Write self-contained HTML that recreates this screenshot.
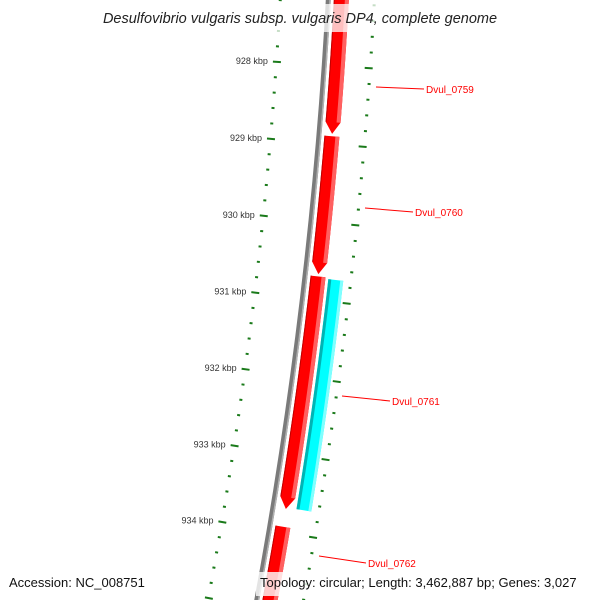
<!DOCTYPE html>
<html><head><meta charset="utf-8"><style>
html,body{margin:0;padding:0;background:#fff;width:600px;height:600px;overflow:hidden;}
svg{display:block;font-family:"Liberation Sans",sans-serif;overflow:hidden;}
</style></head><body>
<svg id="map" width="600" height="600" viewBox="0 0 600 600" xmlns="http://www.w3.org/2000/svg">
<rect width="600" height="600" fill="#fff"/>
<g id="g-rulers"></g>
<g id="g-backbone"></g>
<g id="g-features"></g>
<g id="g-labels"></g>
<rect x="84" y="4" width="432" height="28" fill="#fff" opacity="0.75"/>
<text x="300" y="23" text-anchor="middle" font-size="14.5" font-style="italic" fill="#222">Desulfovibrio vulgaris subsp. vulgaris DP4, complete genome</text>
<rect x="4" y="572" width="150" height="24" fill="#fff" opacity="0.8"/>
<text x="9" y="587" font-size="13" fill="#111">Accession: NC_008751</text>
<rect x="256" y="572" width="340" height="24" fill="#fff" opacity="0.8"/>
<text x="260" y="587" font-size="13" fill="#111">Topology: circular; Length: 3,462,887 bp; Genes: 3,027</text>
</svg>
<script>
// data
const majorTicks = [928, 929, 930, 931, 932, 933, 934];
const tickLabels = ["928 kbp","929 kbp","930 kbp","931 kbp","932 kbp","933 kbp","934 kbp"];
const geneNames = ["Dvul_0759","Dvul_0760","Dvul_0761","Dvul_0762"];
const geneStarts = [926.9, 928.9, 930.7, 933.93];
const geneEnds = [928.87, 930.67, 933.7, 935.5];
const cdsStarts = [930.72];
const cdsEnds = [933.68];
const labelPos = [[426,89,376,87],[415,212,365,208],[392,401,342,396],[368,563,319,556]];

const NS="http://www.w3.org/2000/svg";
const CX=-4415, CY=-261, A0=0.0687, K=0.01643;
function ang(k){return A0+(k-928)*K;}
function pt(r,k){const a=ang(k);return [CX+r*Math.cos(a), CY+r*Math.sin(a)];}
function mk(tag,attrs,parent){const e=document.createElementNS(NS,tag);for(const k in attrs)e.setAttribute(k,attrs[k]);parent.appendChild(e);return e;}
function arcPts(r,k1,k2){const p=[];const n=40;for(let i=0;i<=n;i++){p.push(pt(r,k1+(k2-k1)*i/n));}return p;}
function band(r1,r2,k1,k2,fill,parent,name){
  const pts=arcPts(r2,k1,k2).concat(arcPts(r1,k2,k1));
  const e=mk('polygon',{points:pts.map(p=>p.join(',')).join(' '),fill:fill},parent);
  
  
  return e;
}
function arrow(r1,r2,k1,k2,fill,parent,name){
  const head=0.15;const kh=Math.max(k1,k2-head);
  const pts=arcPts(r2,k1,kh).concat([pt((r1+r2)/2,k2)]).concat(arcPts(r1,kh,k1));
  const e=mk('polygon',{points:pts.map(p=>p.join(',')).join(' '),fill:fill},parent);
  
  
  return e;
}
const gr=document.getElementById('g-rulers');
const gb=document.getElementById('g-backbone');
const gf=document.getElementById('g-features');
const gl=document.getElementById('g-labels');

// rulers
for(let i=-10;i<=50;i++){
  const k=926+i*0.2;
  const isMajor=Math.abs(k-Math.round(k))<1e-6;
  [[4699,4707,4701,4704],[4791,4799,4795,4798]].forEach((rr,j)=>{
    const a=isMajor?pt(rr[0],k):pt(rr[2],k), b=isMajor?pt(rr[1],k):pt(rr[3],k);
    const l=mk('line',{x1:a[0],y1:a[1],x2:b[0],y2:b[1],stroke:'#1a7a1a','stroke-width':2},gr);
    
    
  });
}
majorTicks.forEach((k,i)=>{
  const p=pt(4694,k);
  const t=mk('text',{x:p[0],y:p[1]+3,'text-anchor':'end','font-size':'9',fill:'#333'},gr);
  t.textContent=tickLabels[i];
  
  
});

// backbone
band(4748,4753,920,940,'#7a7a7a',gb,'backbone');
band(4751.5,4753,920,940,'#b0b0b0',gb,'backbone-highlight');

// genes (forward strand)
geneStarts.forEach((s,i)=>{
  arrow(4756,4771,s,geneEnds[i],'#ff0000',gf,'gene-'+geneNames[i]);
  band(4767,4771,s,geneEnds[i]-0.15,'#ff6060',gf,'gene-highlight');
  band(4756,4757,s,geneEnds[i]-0.15,'#c00000',gf,'gene-shadow');
});
cdsStarts.forEach((s,i)=>{
  band(4774,4789,s,cdsEnds[i],'#00ffff',gf,'cds-feature');
  band(4774,4777,s,cdsEnds[i],'#00b4b4',gf,'cds-shadow');
  band(4786,4789,s,cdsEnds[i],'#80ffff',gf,'cds-highlight');
});

// labels
geneNames.forEach((n,i)=>{
  const p=labelPos[i];
  const l=mk('line',{x1:p[2],y1:p[3],x2:p[0]-2,y2:p[1],stroke:'#ff0000','stroke-width':1},gl);
  
  
  const t=mk('text',{x:p[0],y:p[1]+4,'font-size':'10',fill:'#ff0000'},gl);
  t.textContent=n;
  
  
});
</script>
</body></html>
